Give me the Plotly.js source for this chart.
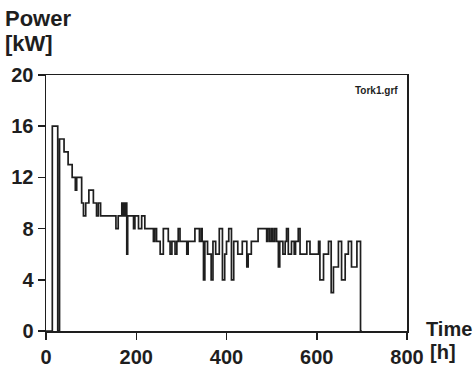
<!DOCTYPE html>
<html>
<head>
<meta charset="utf-8">
<script src="https://cdn.plot.ly/plotly-3.0.1.min.js"></script>
<style>html,body{margin:0;padding:0;background:#fff;}#chart{width:475px;height:369px;}</style>
</head>
<body>
<div id="chart"></div>
<script>
// Step series: time [h] where each power level [kW] begins
var timeH = [0,14,26,30,40,49,58,65,68,79,83,88,95,105,112,116,121,155,160,168,171,173,175,177,179,181,194,197,205,212,219,238,241,245,253,260,271,275,279,286,290,293,297,312,315,330,340,344,346,349,352,358,366,370,376,384,391,396,400,405,411,416,425,435,445,448,455,470,489,492,496,500,503,507,511,515,518,525,530,533,537,544,550,553,559,563,578,585,604,607,615,626,632,637,648,655,663,670,677,689,697,700];
var powerKW = [0,16,0,15,14,13,12,11,12,10,9,10,11,10,9,10,9,8,9,10,9,10,9,10,6,9,8,9,8,9,8,7,8,7,6,8,7,6,7,6,7,8,7,6,7,8,7,8,7,4,7,6,4,7,6,8,4,6,7,8,4,7,6,7,5,6,7,8,7,8,7,8,7,8,7,5,7,6,7,8,6,7,6,7,8,6,7,6,7,4,6,7,3,5,7,4,6,7,5,7,0,0];
var xTicks = [0,200,400,600,800];
var yTicks = [0,4,8,12,16,20];

var ink = '#1e1e1e';
var tickFont = {family:'Liberation Sans, Arial, sans-serif', size:20, color:ink, weight:'bold'};
var labFont = {family:'Liberation Sans, Arial, sans-serif', size:22, color:ink, weight:'bold'};
var labFontR = {family:'Liberation Sans, Arial, sans-serif', size:20, color:ink, weight:'bold'};

var trace = {
  x: timeH, y: powerKW, type:'scatter', mode:'lines',
  line:{shape:'hv', color:ink, width:1.7}, hoverinfo:'skip'
};

function px2x(px){return (px-46)/361;}
function py2y(py){return (331-py)/256;}

var layout = {
  width:475, height:369,
  margin:{l:46, r:68, t:75, b:38, pad:0},
  paper_bgcolor:'#ffffff', plot_bgcolor:'#ffffff',
  showlegend:false,
  xaxis:{range:[0,800], tickvals:xTicks, ticktext:xTicks.map(String), ticks:'outside', ticklen:7, tickwidth:1.5, tickcolor:ink,
         showline:true, linecolor:ink, linewidth:1.5, mirror:true, showgrid:false, zeroline:false, tickfont:tickFont, fixedrange:true},
  yaxis:{range:[0,20], tickvals:yTicks, ticktext:yTicks.map(String), ticks:'outside', ticklen:7, tickwidth:1.5, tickcolor:ink,
         showline:true, linecolor:ink, linewidth:1.5, mirror:true, showgrid:false, zeroline:false, tickfont:tickFont, fixedrange:true},
  annotations:[
    {text:'Power', xref:'paper', yref:'paper', x:px2x(3), y:py2y(4), xanchor:'left', yanchor:'top', showarrow:false, font:labFont},
    {text:'[kW]', xref:'paper', yref:'paper', x:px2x(3), y:py2y(29), xanchor:'left', yanchor:'top', showarrow:false, font:labFont},
    {text:'Time', xref:'paper', yref:'paper', x:px2x(474), y:py2y(316), xanchor:'right', yanchor:'top', showarrow:false, font:labFontR},
    {text:'[h]', xref:'paper', yref:'paper', x:px2x(428), y:py2y(339), xanchor:'left', yanchor:'top', showarrow:false, font:labFontR},
    {text:'Tork1.grf', xref:'paper', yref:'paper', x:px2x(376), y:py2y(90), xanchor:'center', yanchor:'middle', showarrow:false,
     font:{family:'Liberation Sans, Arial, sans-serif', size:10, color:ink, weight:'bold'}}
  ]
};

Plotly.newPlot('chart', [trace], layout, {displayModeBar:false, staticPlot:true});
</script>
</body>
</html>
